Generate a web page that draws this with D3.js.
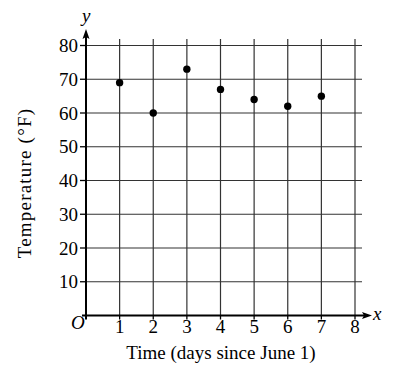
<!DOCTYPE html>
<html>
<head>
<meta charset="utf-8">
<script src="https://cdn.jsdelivr.net/npm/d3@7"></script>
<style>
  body { margin: 0; background: #fff; }
  text { font-family: "Liberation Serif", "DejaVu Serif", serif; fill: #000; }
</style>
</head>
<body>
<div id="chart"></div>
<script>
// data
let days = [1, 2, 3, 4, 5, 6, 7],
    temps = [69, 60, 73, 67, 64, 62, 65],
    xTicks = [1, 2, 3, 4, 5, 6, 7, 8],
    yTicks = [10, 20, 30, 40, 50, 60, 70, 80];

let width = 398, height = 370;

let xScale = d3.scaleLinear().domain([0, 8]).range([86, 355]),
    yScale = d3.scaleLinear().domain([0, 80]).range([315.5, 45.5]);

let svg = d3.select('#chart').append('svg')
  .attr('width', width)
  .attr('height', height);

// grid
svg.append('g').selectAll('line').data(yTicks)
  .enter().append('line')
  .attr('x1', xScale(0)).attr('x2', 362)
  .attr('y1', d => yScale(d)).attr('y2', d => yScale(d))
  .attr('stroke', '#333').attr('stroke-width', 1.2);

svg.append('g').selectAll('line').data(xTicks)
  .enter().append('line')
  .attr('x1', d => xScale(d)).attr('x2', d => xScale(d))
  .attr('y1', 39).attr('y2', yScale(0))
  .attr('stroke', '#333').attr('stroke-width', 1.2);

// y tick marks
svg.append('g').selectAll('line').data(yTicks)
  .enter().append('line')
  .attr('x1', xScale(0) - 6).attr('x2', xScale(0))
  .attr('y1', d => yScale(d)).attr('y2', d => yScale(d))
  .attr('stroke', '#000').attr('stroke-width', 1.3);

// x tick marks (below axis)
svg.append('g').selectAll('line').data(xTicks)
  .enter().append('line')
  .attr('x1', d => xScale(d)).attr('x2', d => xScale(d))
  .attr('y1', yScale(0)).attr('y2', yScale(0) + 4)
  .attr('stroke', '#000').attr('stroke-width', 1.3);

// axes
svg.append('line')
  .attr('x1', xScale(0) - 4).attr('x2', 368)
  .attr('y1', yScale(0)).attr('y2', yScale(0))
  .attr('stroke', '#000').attr('stroke-width', 2);
svg.append('line')
  .attr('x1', xScale(0)).attr('x2', xScale(0))
  .attr('y1', yScale(0) + 4).attr('y2', 34)
  .attr('stroke', '#000').attr('stroke-width', 2);

// arrow heads
svg.append('path')
  .attr('d', 'M372,' + yScale(0) + ' L362,' + (yScale(0) - 3.5) + ' L364,' + yScale(0) + ' L362,' + (yScale(0) + 3.5) + ' Z')
  .attr('fill', '#000');
svg.append('path')
  .attr('d', 'M' + xScale(0) + ',29 L' + (xScale(0) - 3.5) + ',39 L' + xScale(0) + ',37 L' + (xScale(0) + 3.5) + ',39 Z')
  .attr('fill', '#000');

// tick labels
svg.append('g').selectAll('text').data(yTicks)
  .enter().append('text')
  .attr('x', 78).attr('y', d => yScale(d) + 6.5)
  .attr('text-anchor', 'end')
  .attr('font-size', 19)
  .text(d => d);

svg.append('g').selectAll('text').data(xTicks)
  .enter().append('text')
  .attr('x', d => xScale(d)).attr('y', 333)
  .attr('text-anchor', 'middle')
  .attr('font-size', 19)
  .text(d => d);

svg.append('text').attr('x', 71).attr('y', 329)
  .attr('font-size', 19).attr('font-style', 'italic').text('O');
svg.append('text').attr('x', 82).attr('y', 22)
  .attr('font-size', 19).attr('font-style', 'italic').text('y');
svg.append('text').attr('x', 373).attr('y', 320)
  .attr('font-size', 19).attr('font-style', 'italic').text('x');

// axis titles
svg.append('text')
  .attr('x', 221).attr('y', 359)
  .attr('text-anchor', 'middle')
  .attr('font-size', 19)
  .text('Time (days since June 1)');
svg.append('text')
  .attr('transform', 'translate(31,183) rotate(-90)')
  .attr('text-anchor', 'middle')
  .attr('font-size', 19)
  .attr('letter-spacing', 1.2)
  .text('Temperature (°F)');

// points
svg.append('g').selectAll('circle').data(days)
  .enter().append('circle')
  .attr('cx', d => xScale(d))
  .attr('cy', (d, i) => yScale(temps[i]))
  .attr('r', 3.7)
  .attr('fill', '#000');
</script>
</body>
</html>
